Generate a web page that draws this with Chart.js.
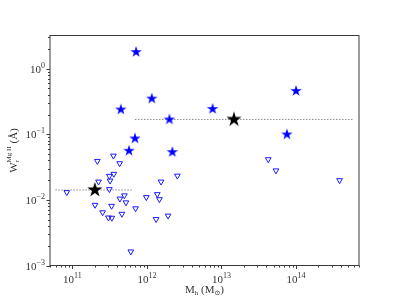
<!DOCTYPE html>
<html>
<head>
<meta charset="utf-8">
<script src="https://cdn.jsdelivr.net/npm/chart.js@4"></script>
<style>
  body { margin: 0; background: #fff; }
  canvas { display: block; }
</style>
</head>
<body>
<canvas id="chart_mgii" width="399" height="299"></canvas>
<script>
// detections (filled blue stars)
const detMh = [7.15e11, 1.16e12, 4.46e11, 7.6e12, 2.0e12, 1.0e14, 6.9e11, 7.55e13, 5.75e11, 2.19e12];
const detW  = [1.79, 0.35, 0.238, 0.243, 0.168, 0.457, 0.0863, 0.0993, 0.056, 0.0535];

// upper limits (open down triangles)
const limMh = [8.4e10, 2.16e11, 3.55e11, 4.3e11, 3.13e11, 3.59e11, 3.2e11, 2.24e11, 3.13e11, 2.01e11,
               2.54e11, 3.35e11, 3.04e11, 3.38e11, 4.61e11, 7.03e11, 4.33e11, 4.98e11, 5.22e11, 9.8e11,
               1.375e12, 1.47e12, 1.545e12, 2.56e12, 1.325e12, 1.92e12, 6.07e11, 4.24e13, 5.38e13, 3.84e14];
const limW  = [0.01305, 0.039, 0.047, 0.036, 0.0231, 0.0248, 0.0196, 0.0189, 0.0145, 0.00836,
               0.00644, 0.00807, 0.00536, 0.00531, 0.0061, 0.0074, 0.0104, 0.01166, 0.00912, 0.01096,
               0.01217, 0.0102, 0.0189, 0.0233, 0.00507, 0.00573, 0.00163, 0.0414, 0.028, 0.01986];

// binned means (black stars) and their mass ranges
const meanMh = [2.0e11, 1.47e13];
const meanW  = [0.01415, 0.168];
const lowBinMh  = [5.9e10, 6.5e11];
const highBinMh = [6.9e11, 6.0e14];

// axes
const xMin = 5e10, xMax = 7e14;
const yMin = 1e-3, yMax = 3.2;
const xTickExps = [11, 12, 13, 14];
const yTickExps = [0, -1, -2, -3];

const toPts = (xs, ys) => xs.map((x, i) => ({x: x, y: ys[i]}));

function makeStar(r, color) {
    const c = document.createElement('canvas');
    const s = Math.ceil(2 * r + 2);
    c.width = s; c.height = s;
    const g = c.getContext('2d');
    const cx = s / 2, cy = s / 2, ri = r * 0.382;
    g.beginPath();
    for (let i = 0; i < 10; i++) {
        const rr = i % 2 === 0 ? r : ri;
        const a = -Math.PI / 2 + i * Math.PI / 5;
        const px = cx + rr * Math.cos(a), py = cy + rr * Math.sin(a);
        if (i === 0) g.moveTo(px, py); else g.lineTo(px, py);
    }
    g.closePath();
    g.fillStyle = color;
    g.fill();
    return c;
}

const FONT = '"Liberation Serif", "DejaVu Serif", serif';
const TXT = '#333';

// draws runs of text: [text, size, dy]
function drawRuns(ctx, runs, x, y, align) {
    let w = 0;
    runs.forEach(r => { ctx.font = r[1] + 'px ' + FONT; w += ctx.measureText(r[0]).width; });
    let cx = align === 'center' ? x - w / 2 : (align === 'right' ? x - w : x);
    ctx.textAlign = 'left';
    ctx.textBaseline = 'alphabetic';
    runs.forEach(r => {
        ctx.font = r[1] + 'px ' + FONT;
        ctx.fillText(r[0], cx, y + r[2]);
        cx += ctx.measureText(r[0]).width;
    });
}

const supText = e => (e < 0 ? '\u2212' + (-e) : String(e));

const axesPlugin = {
    id: 'mplAxes',
    afterDraw(chart) {
        const ctx = chart.ctx;
        const a = chart.chartArea;
        const xs = chart.scales.x, ys = chart.scales.y;
        ctx.save();
        ctx.strokeStyle = '#3a3a3a';
        ctx.lineWidth = 1;
        ctx.strokeRect(a.left, a.top, a.right - a.left, a.bottom - a.top);

        // x ticks
        ctx.beginPath();
        for (let k = 10; k <= 14; k++) {
            for (let m = 1; m <= 9; m++) {
                const v = m * Math.pow(10, k);
                if (v < xMin || v > xMax) continue;
                const px = Math.round(xs.getPixelForValue(v)) + 0.5;
                ctx.moveTo(px, a.bottom);
                ctx.lineTo(px, a.bottom + (m === 1 ? 3.5 : 2));
            }
        }
        // y ticks
        for (let k = -3; k <= 0; k++) {
            for (let m = 1; m <= 9; m++) {
                const v = m * Math.pow(10, k);
                if (v < yMin || v > yMax) continue;
                const py = Math.round(ys.getPixelForValue(v)) + 0.5;
                ctx.moveTo(a.left, py);
                ctx.lineTo(a.left - (m === 1 ? 3.5 : 2), py);
            }
        }
        ctx.stroke();

        ctx.fillStyle = TXT;
        xTickExps.forEach(e => {
            const px = xs.getPixelForValue(Math.pow(10, e));
            drawRuns(ctx, [['10', 11, 0], [supText(e), 8, -5]], px, a.bottom + 17, 'center');
        });
        yTickExps.forEach(e => {
            const py = ys.getPixelForValue(Math.pow(10, e));
            drawRuns(ctx, [['10', 11, 0], [supText(e), 8, -5]], a.left - 5, py + 4, 'right');
        });

        // x axis label
        drawRuns(ctx, [['M', 11, 0], ['h', 7, 2], [' (M', 11, 0], ['\u2299', 7, 2], [')', 11, 0]],
                 (a.left + a.right) / 2, 293, 'center');

        // y axis label
        ctx.translate(17, (a.top + a.bottom) / 2);
        ctx.rotate(-Math.PI / 2);
        ctx.font = '11px ' + FONT;
        const wW = ctx.measureText('W').width;
        ctx.font = '7px ' + FONT;
        const wSup = ctx.measureText('Mg II').width;
        ctx.font = '11px ' + FONT;
        const wRest = ctx.measureText(' (\u00c5)').width;
        let x0 = -(wW + wSup + wRest) / 2;
        ctx.textAlign = 'left';
        ctx.fillText('W', x0, 0);
        ctx.font = '7px ' + FONT;
        ctx.fillText('r', x0 + wW, 2);
        ctx.fillText('Mg II', x0 + wW, -6);
        ctx.font = '11px ' + FONT;
        ctx.fillText(' (\u00c5)', x0 + wW + wSup, 0);
        ctx.restore();
    }
};

const ctxMgii = document.getElementById('chart_mgii').getContext('2d');
const chartMgii = new Chart(ctxMgii, {
    type: 'scatter',
    data: {
        datasets: [
            {
                label: 'mean',
                data: toPts(meanMh, meanW),
                pointStyle: makeStar(8, '#000'),
                pointRadius: 8
            },
            {
                label: 'detections',
                data: toPts(detMh, detW),
                pointStyle: makeStar(6, '#0000ff'),
                pointRadius: 6
            },
            {
                label: 'upper limits',
                data: toPts(limMh, limW),
                pointStyle: 'triangle',
                rotation: 180,
                pointRadius: 3.3,
                borderWidth: 1,
                borderColor: '#1a1aff',
                backgroundColor: 'rgba(255,255,255,0)'
            },
            {
                label: 'low bin',
                type: 'line',
                data: toPts(lowBinMh, [meanW[0], meanW[0]]),
                borderColor: '#8c8c8c',
                borderWidth: 1,
                borderDash: [1.5, 1.5],
                pointRadius: 0,
                fill: false
            },
            {
                label: 'high bin',
                type: 'line',
                data: toPts(highBinMh, [meanW[1], meanW[1]]),
                borderColor: '#8c8c8c',
                borderWidth: 1,
                borderDash: [1.5, 1.5],
                pointRadius: 0,
                fill: false
            }
        ]
    },
    options: {
        responsive: false,
        animation: false,
        layout: { padding: { left: 50, top: 35.5, right: 40, bottom: 33.5 } },
        plugins: { legend: { display: false }, tooltip: { enabled: false } },
        scales: {
            x: { type: 'logarithmic', min: xMin, max: xMax, display: false },
            y: { type: 'logarithmic', min: yMin, max: yMax, display: false }
        }
    },
    plugins: [axesPlugin]
});
</script>
</body>
</html>
